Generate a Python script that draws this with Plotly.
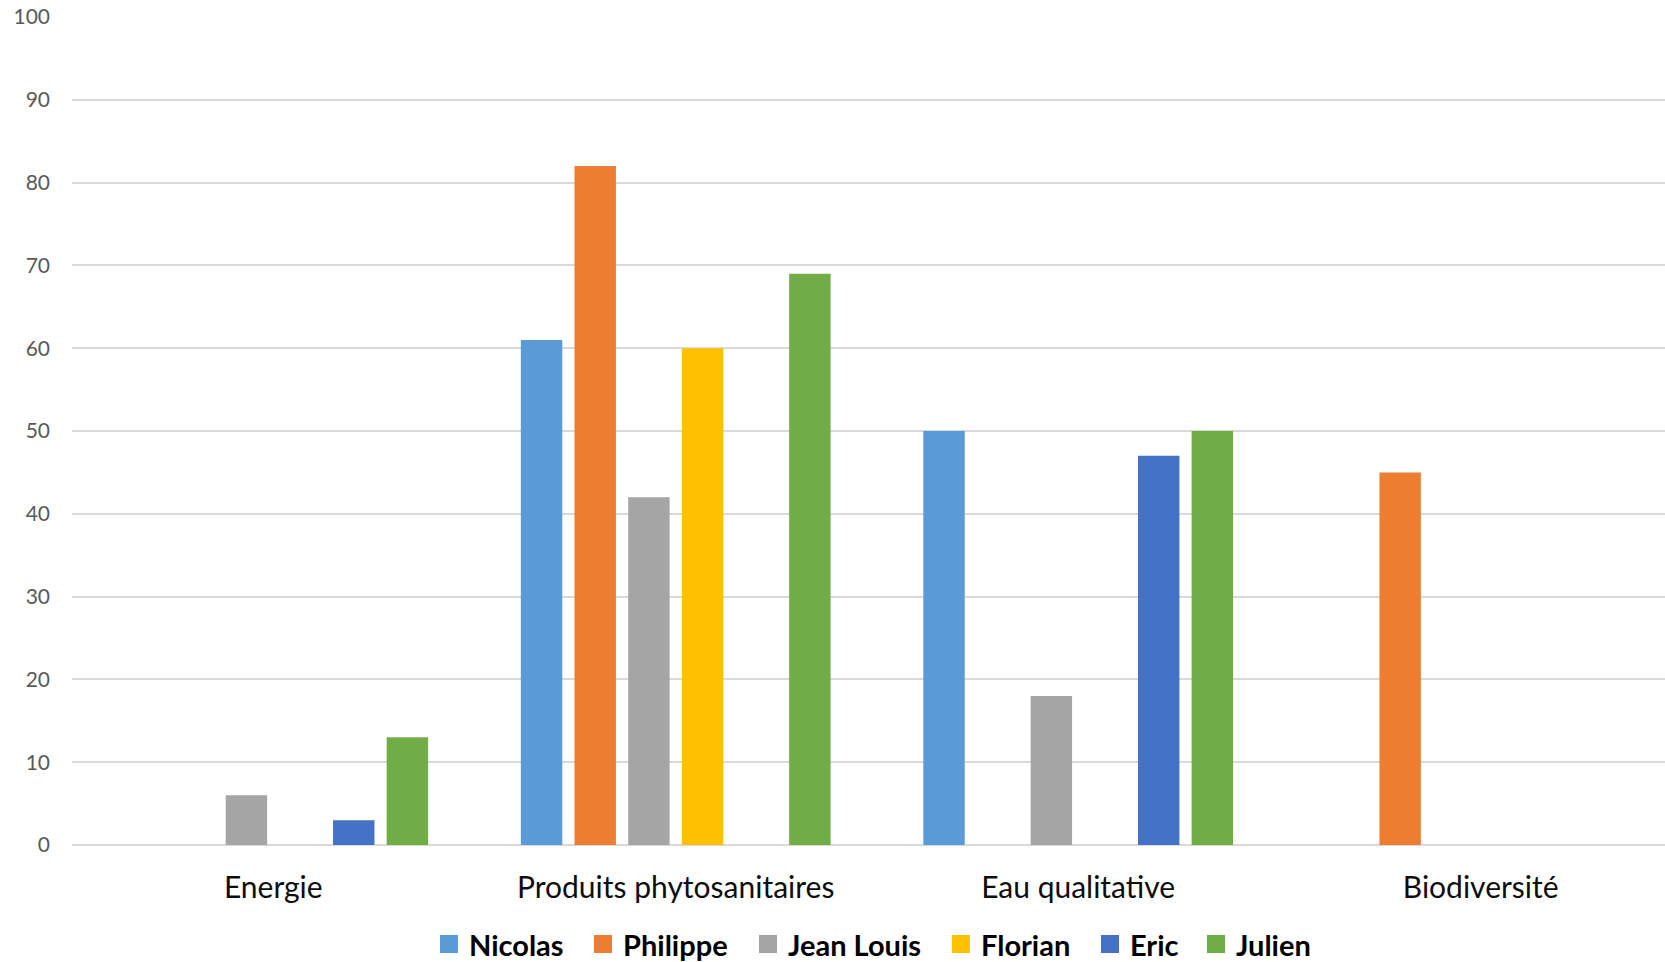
import plotly.graph_objects as go

# Thematic categories on the x axis
categories = ["Energie", "Produits phytosanitaires", "Eau qualitative", "Biodiversité"]

# One series per person, values per category
nicolas = [0, 61, 50, 0]
philippe = [0, 82, 0, 45]
jean_louis = [6, 42, 18, 0]
florian = [0, 60, 0, 0]
eric = [3, 0, 47, 0]
julien = [13, 69, 50, 0]

series_names = ["Nicolas", "Philippe", "Jean Louis", "Florian", "Eric", "Julien"]
series_values = [nicolas, philippe, jean_louis, florian, eric, julien]
series_colors = ["#5B9BD5", "#ED7D31", "#A5A5A5", "#FFC000", "#4472C4", "#70AD47"]

y_ticks = list(range(0, 101, 10))

# Page and plot-area geometry (pixels)
W, H = 1665, 962
M_L, M_R, M_T, M_B = 72, 0, 17, 117
PLOT_W = W - M_L - M_R
PLOT_H = H - M_T - M_B

# Legend entry left edges (pixels) and baseline row
legend_left_px = [440, 594, 759, 952, 1101, 1207]
legend_row_px = 944
legend_box = 18
legend_text_offset = 27


def px_to_paper_x(px):
    return (px - M_L) / PLOT_W


def px_to_paper_y(py):
    return (H - M_B - py) / PLOT_H


fig = go.Figure()
for name, vals, color in zip(series_names, series_values, series_colors):
    fig.add_trace(go.Bar(
        name=name,
        x=categories,
        y=vals,
        marker=dict(color=color, line=dict(width=0)),
        showlegend=False,
    ))

# Legend row: colour squares with bold names beside them
shapes = []
annotations = []
for name, color, left in zip(series_names, series_colors, legend_left_px):
    shapes.append(dict(
        type="rect",
        xref="paper", yref="paper",
        xsizemode="pixel", ysizemode="pixel",
        xanchor=px_to_paper_x(left), yanchor=px_to_paper_y(legend_row_px),
        x0=0, x1=legend_box,
        y0=-legend_box / 2, y1=legend_box / 2,
        fillcolor=color, line=dict(width=0),
    ))
    annotations.append(dict(
        text=f"<b>{name}</b>",
        xref="paper", yref="paper",
        x=px_to_paper_x(left + legend_text_offset),
        y=px_to_paper_y(legend_row_px),
        xanchor="left", yanchor="middle",
        showarrow=False,
        font=dict(size=29, color="#000000", family="Lato, sans-serif"),
    ))

fig.update_layout(
    width=W,
    height=H,
    template="none",
    paper_bgcolor="white",
    plot_bgcolor="white",
    barmode="group",
    bargap=0.2,
    bargroupgap=0.228,
    margin=dict(l=M_L, r=M_R, t=M_T, b=M_B, autoexpand=False),
    font=dict(family="Lato, Carlito, Calibri, sans-serif"),
    showlegend=False,
    shapes=shapes,
    annotations=annotations,
)

fig.update_xaxes(
    type="category",
    range=[-0.5, 3.458],
    showgrid=False,
    showline=False,
    zeroline=False,
    ticks="",
    tickfont=dict(size=30, color="#0D0D0D"),
    ticklabelstandoff=22,
)

fig.update_yaxes(
    range=[0, 100],
    tickvals=y_ticks,
    showgrid=True,
    gridcolor="#D9D9D9",
    gridwidth=1.5,
    zeroline=True,
    zerolinecolor="#D9D9D9",
    zerolinewidth=1.5,
    showline=False,
    ticks="",
    tickfont=dict(size=21, color="#595959"),
    ticklabelstandoff=21,
)

fig.write_html("out.html")
